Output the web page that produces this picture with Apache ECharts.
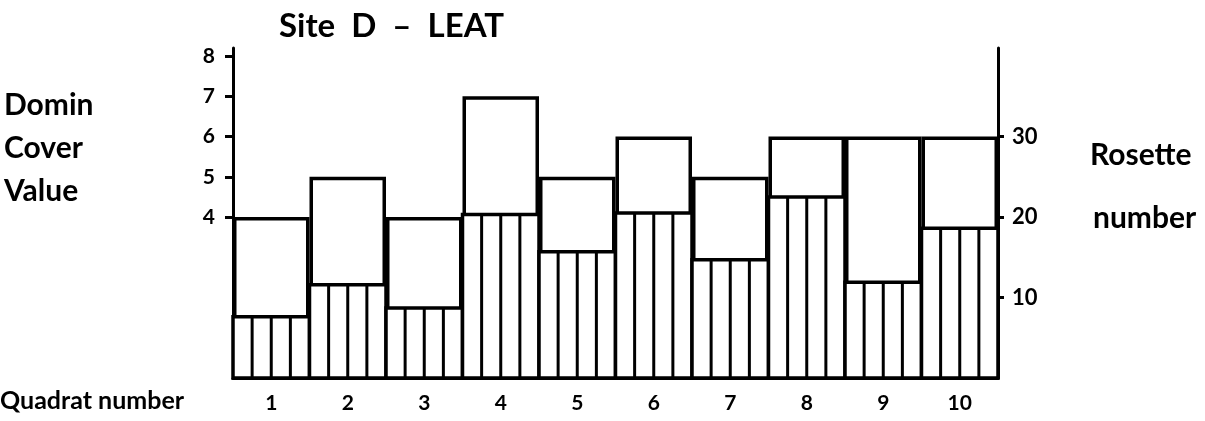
<!DOCTYPE html>
<html>
<head>
<meta charset="utf-8">
<script src="https://cdn.jsdelivr.net/npm/echarts@6/dist/echarts.min.js"></script>
<style>html,body{margin:0;padding:0;background:#fff}#c{width:1205px;height:421px}</style>
</head>
<body>
<div id="c"></div>
<script>
const categories = ['1','2','3','4','5','6','7','8','9','10'];
const dominCover = [4, 5, 4, 7, 5, 6, 5, 6, 6, 6];
const rosetteNumber = [7.6, 11.6, 8.7, 20.3, 15.7, 20.5, 14.7, 22.5, 11.9, 18.6];
const leftTicks = [4, 5, 6, 7, 8];
const rightTicks = [10, 20, 30];

const FONT = 'Lato';
const chart = echarts.init(document.getElementById('c'), null, {renderer: 'canvas'});
function txt(text, x, y, size) {
  return {type: 'text', x: x, y: y, style: {text: text, fontSize: size, fontFamily: FONT, fontWeight: 'bold', fill: '#000', verticalAlign: 'middle', align: 'left'}};
}

chart.setOption({
  animation: false,
  backgroundColor: '#fff',
  grid: {left: 233, right: 207, top: 48, bottom: 43, containLabel: false},
  xAxis: {
    type: 'category',
    data: categories,
    axisLine: {lineStyle: {color: '#000', width: 3}},
    axisTick: {show: false},
    axisLabel: {color: '#000', fontFamily: FONT, fontWeight: 'bold', fontSize: 21, margin: 15}
  },
  yAxis: [
    {
      type: 'value', min: 0, max: 8.2, interval: 1,
      splitLine: {show: false},
      axisLine: {show: true, lineStyle: {color: '#000', width: 3}},
      axisTick: {show: true, inside: false, length: 8, lineStyle: {color: '#000', width: 3}, customValues: leftTicks},
      axisLabel: {color: '#000', fontFamily: FONT, fontWeight: 'bold', fontSize: 21, margin: 18, customValues: leftTicks}
    },
    {
      type: 'value', min: 0, max: 41, interval: 10,
      position: 'right',
      splitLine: {show: false},
      axisLine: {show: true, lineStyle: {color: '#000', width: 3}},
      axisTick: {show: true, inside: false, length: 6, lineStyle: {color: '#000', width: 3}, customValues: rightTicks},
      axisLabel: {color: '#000', fontFamily: FONT, fontWeight: 'bold', fontSize: 22, margin: 14, customValues: rightTicks}
    }
  ],
  series: [
    {
      name: 'Domin Cover Value',
      type: 'bar',
      yAxisIndex: 0,
      data: dominCover,
      barWidth: '100%',
      barGap: '-100%',
      barCategoryGap: '0%',
      itemStyle: {color: 'rgba(0,0,0,0)', borderColor: '#000', borderWidth: 3.5},
      z: 3
    },
    {
      name: 'Rosette number',
      type: 'custom',
      yAxisIndex: 1,
      data: rosetteNumber.map((v, i) => [i, v]),
      encode: {x: 0, y: 1},
      z: 4,
      renderItem: function (params, api) {
        const idx = api.value(0);
        const v = api.value(1);
        const base = api.coord([idx, 0]);
        const top = api.coord([idx, v]);
        const w = api.size([1, 0])[0];
        const x0 = base[0] - w / 2;
        const children = [{
          type: 'rect',
          shape: {x: x0, y: top[1], width: w, height: base[1] - top[1]},
          style: {fill: '#fff', stroke: '#000', lineWidth: 3.5}
        }];
        for (let k = 1; k < 4; k++) {
          const xx = x0 + w * k / 4;
          children.push({
            type: 'line',
            shape: {x1: xx, y1: top[1], x2: xx, y2: base[1]},
            style: {stroke: '#000', lineWidth: 3}
          });
        }
        return {type: 'group', children: children};
      }
    }
  ],
  graphic: [
    txt('Site  D  \u2013  LEAT', 279, 26, 33),
    txt('Domin', 4, 105, 30),
    txt('Cover', 4, 148, 30),
    txt('Value', 4, 191, 30),
    txt('Rosette', 1090, 155, 30),
    txt('number', 1093, 218, 30),
    txt('Quadrat number', 0, 401, 25)
  ]
});
</script>
</body>
</html>
